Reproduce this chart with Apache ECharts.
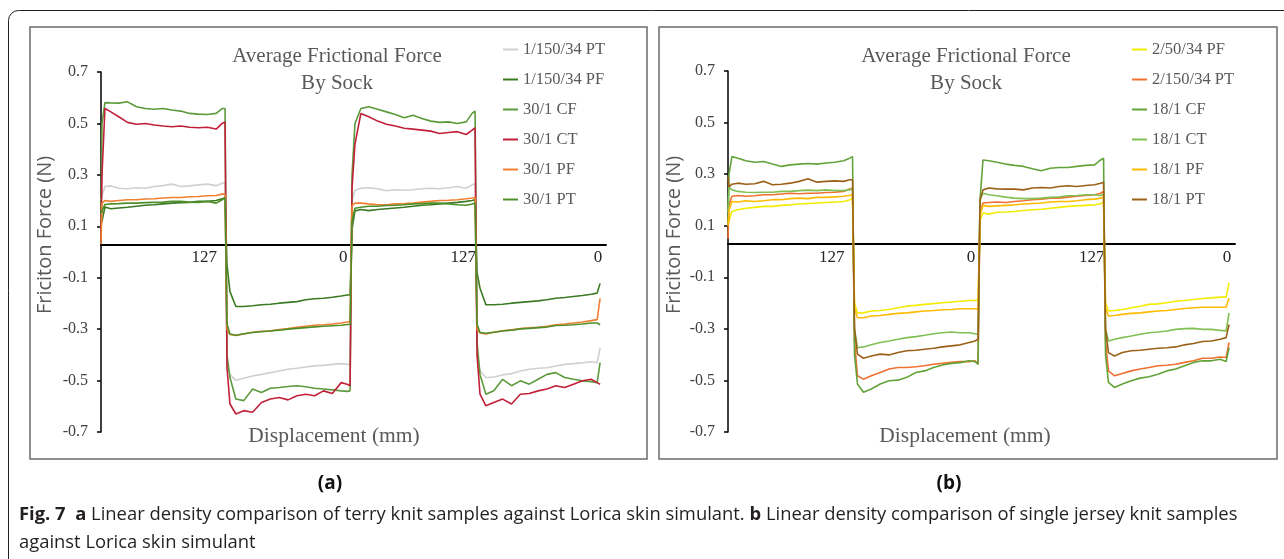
<!DOCTYPE html>
<html>
<head>
<meta charset="utf-8">
<script src="https://cdn.jsdelivr.net/npm/echarts@6/dist/echarts.min.js"></script>
<style>
html,body{margin:0;padding:0;background:#fff;}
#chart{width:1284px;height:559px;}
</style>
</head>
<body>
<div id="chart"></div>
<script>
// Displacement positions (mm, cumulative over 4 strokes of 127 mm)
const positions = [0,
  1,4,10,18,27,36,45,54,63,72,81,90,99,108,117,123,126,
  128,131,137,145,154,163,172,181,190,199,208,217,226,235,244,250,253,
  255,258,264,272,281,290,299,308,317,326,335,344,353,362,371,377,380,
  382,385,391,399,408,417,426,435,444,453,462,471,480,489,498,504,507];

const xTickValues = [105, 246, 368, 505];
const xTickLabels = ['127', '0', '127', '0'];
const yTickValues = [-0.7, -0.5, -0.3, -0.1, 0.1, 0.3, 0.5, 0.7];

// Panel (a)
const namesA = ['1/150/34 PT', '1/150/34 PF', '30/1 CF', '30/1 CT', '30/1 PF', '30/1 PT'];
const colorsA = ['#d0d0d0', '#3a7a23', '#5b9a3a', '#c0203a', '#f08030', '#4f8f2a'];
const a_150_34_PT = [0.2,
  0.22,0.255,0.257,0.248,0.246,0.25,0.248,0.255,0.258,0.264,0.255,0.257,0.261,0.264,0.258,0.267,0.27,
  -0.45,-0.476,-0.499,-0.491,-0.482,-0.476,-0.469,-0.463,-0.456,-0.452,-0.447,-0.443,-0.441,-0.437,-0.434,-0.437,-0.437,
  0.2,0.24,0.248,0.25,0.246,0.238,0.242,0.24,0.242,0.246,0.248,0.246,0.25,0.255,0.248,0.261,0.267,
  -0.4,-0.463,-0.488,-0.486,-0.478,-0.473,-0.463,-0.456,-0.452,-0.45,-0.443,-0.437,-0.434,-0.431,-0.427,-0.431,-0.373];
const a_150_34_PF = [0.11,
  0.12,0.175,0.168,0.171,0.174,0.178,0.182,0.184,0.187,0.19,0.192,0.193,0.197,0.197,0.2,0.207,0.21,
  -0.05,-0.154,-0.212,-0.212,-0.209,-0.205,-0.203,-0.199,-0.196,-0.193,-0.186,-0.182,-0.18,-0.176,-0.171,-0.167,-0.167,
  0.09,0.16,0.165,0.161,0.165,0.168,0.171,0.174,0.178,0.182,0.184,0.187,0.19,0.193,0.197,0.2,0.203,
  -0.08,-0.141,-0.205,-0.205,-0.203,-0.199,-0.196,-0.193,-0.19,-0.186,-0.18,-0.177,-0.173,-0.169,-0.164,-0.16,-0.122];
const a_30_1_CF = [0.12,
  0.5,0.581,0.58,0.579,0.584,0.565,0.558,0.555,0.558,0.552,0.548,0.539,0.536,0.535,0.539,0.558,0.558,
  -0.4,-0.488,-0.572,-0.578,-0.533,-0.546,-0.53,-0.527,-0.523,-0.52,-0.524,-0.53,-0.533,-0.536,-0.54,-0.542,-0.54,
  0.3,0.5,0.558,0.565,0.555,0.545,0.535,0.522,0.532,0.519,0.509,0.504,0.506,0.5,0.506,0.539,0.548,
  -0.35,-0.476,-0.553,-0.54,-0.495,-0.52,-0.501,-0.514,-0.495,-0.476,-0.469,-0.488,-0.495,-0.501,-0.504,-0.508,-0.43];
const a_30_1_CT = [0.05,
  0.3,0.558,0.545,0.526,0.504,0.497,0.5,0.494,0.49,0.487,0.49,0.485,0.483,0.485,0.478,0.5,0.506,
  -0.45,-0.591,-0.63,-0.617,-0.623,-0.585,-0.572,-0.566,-0.575,-0.559,-0.553,-0.559,-0.54,-0.55,-0.508,-0.514,-0.52,
  0.25,0.42,0.539,0.526,0.509,0.497,0.49,0.481,0.478,0.474,0.47,0.461,0.465,0.468,0.457,0.474,0.483,
  -0.4,-0.553,-0.598,-0.585,-0.572,-0.591,-0.553,-0.55,-0.54,-0.533,-0.52,-0.527,-0.514,-0.501,-0.495,-0.508,-0.514];
const a_30_1_PF = [0.03,
  0.19,0.2,0.197,0.2,0.203,0.203,0.206,0.207,0.21,0.212,0.212,0.215,0.216,0.219,0.22,0.225,0.225,
  -0.3,-0.321,-0.325,-0.319,-0.312,-0.308,-0.306,-0.302,-0.298,-0.293,-0.289,-0.285,-0.283,-0.28,-0.276,-0.272,-0.27,
  0.18,0.19,0.19,0.187,0.184,0.184,0.187,0.188,0.19,0.194,0.197,0.2,0.201,0.203,0.207,0.21,0.212,
  -0.3,-0.315,-0.319,-0.312,-0.306,-0.303,-0.298,-0.295,-0.293,-0.289,-0.283,-0.28,-0.276,-0.272,-0.267,-0.263,-0.18];
const a_30_1_PT = [0.15,
  0.15,0.185,0.187,0.188,0.19,0.19,0.192,0.193,0.194,0.197,0.197,0.194,0.193,0.197,0.19,0.203,0.212,
  -0.28,-0.319,-0.324,-0.318,-0.313,-0.31,-0.307,-0.304,-0.3,-0.297,-0.294,-0.291,-0.289,-0.287,-0.285,-0.282,-0.282,
  0.12,0.17,0.174,0.178,0.178,0.181,0.182,0.184,0.187,0.188,0.19,0.19,0.187,0.184,0.182,0.187,0.19,
  -0.28,-0.313,-0.316,-0.312,-0.307,-0.304,-0.299,-0.297,-0.294,-0.292,-0.286,-0.285,-0.283,-0.28,-0.276,-0.276,-0.283];

// Panel (b)
const namesB = ['2/50/34 PF', '2/150/34 PT', '18/1 CF', '18/1 CT', '18/1 PF', '18/1 PT'];
const colorsB = ['#f2ec00', '#f07030', '#62a33a', '#80c055', '#ffbb00', '#9a6018'];
const b_2_50_34_PF = [0.1,
  0.12,0.155,0.162,0.168,0.171,0.175,0.175,0.179,0.181,0.184,0.186,0.188,0.19,0.192,0.194,0.2,0.207,
  -0.2,-0.238,-0.238,-0.231,-0.229,-0.225,-0.218,-0.212,-0.209,-0.205,-0.202,-0.199,-0.196,-0.193,-0.19,-0.19,-0.19,
  0.12,0.149,0.145,0.152,0.153,0.155,0.159,0.162,0.164,0.168,0.171,0.175,0.177,0.179,0.181,0.185,0.192,
  -0.2,-0.231,-0.229,-0.225,-0.218,-0.212,-0.205,-0.203,-0.199,-0.193,-0.19,-0.186,-0.182,-0.18,-0.177,-0.177,-0.122];
const b_2_150_34_PT = [0.05,
  0.18,0.214,0.217,0.214,0.216,0.22,0.22,0.223,0.226,0.224,0.226,0.226,0.229,0.23,0.233,0.242,0.246,
  -0.35,-0.482,-0.495,-0.482,-0.469,-0.456,-0.45,-0.45,-0.447,-0.443,-0.437,-0.434,-0.43,-0.427,-0.427,-0.424,-0.437,
  0.15,0.188,0.19,0.192,0.19,0.194,0.197,0.201,0.203,0.207,0.207,0.211,0.214,0.217,0.22,0.226,0.233,
  -0.35,-0.463,-0.482,-0.473,-0.463,-0.456,-0.45,-0.443,-0.441,-0.437,-0.43,-0.424,-0.414,-0.414,-0.409,-0.411,-0.353];
const b_18_1_CF = [0.1,
  0.3,0.368,0.362,0.352,0.346,0.349,0.339,0.33,0.336,0.339,0.341,0.339,0.343,0.346,0.352,0.362,0.368,
  -0.4,-0.514,-0.546,-0.533,-0.514,-0.501,-0.499,-0.488,-0.469,-0.463,-0.45,-0.44,-0.434,-0.431,-0.424,-0.427,-0.437,
  0.2,0.355,0.352,0.346,0.339,0.334,0.33,0.321,0.313,0.323,0.326,0.326,0.33,0.334,0.336,0.355,0.362,
  -0.4,-0.508,-0.527,-0.514,-0.501,-0.491,-0.486,-0.476,-0.463,-0.456,-0.443,-0.43,-0.424,-0.424,-0.418,-0.427,-0.373];
const b_18_1_CT = [0.15,
  0.25,0.239,0.233,0.23,0.229,0.23,0.23,0.233,0.233,0.236,0.238,0.236,0.239,0.236,0.236,0.239,0.243,
  -0.3,-0.373,-0.37,-0.362,-0.353,-0.347,-0.34,-0.334,-0.33,-0.325,-0.319,-0.315,-0.312,-0.315,-0.315,-0.319,-0.321,
  0.2,0.226,0.22,0.216,0.211,0.207,0.205,0.205,0.207,0.21,0.212,0.216,0.217,0.22,0.22,0.217,0.223,
  -0.3,-0.347,-0.34,-0.334,-0.328,-0.321,-0.315,-0.312,-0.308,-0.302,-0.299,-0.298,-0.302,-0.302,-0.306,-0.308,-0.238];
const b_18_1_PF = [0.1,
  0.16,0.194,0.192,0.197,0.194,0.197,0.201,0.201,0.205,0.207,0.205,0.21,0.21,0.212,0.214,0.217,0.22,
  -0.22,-0.257,-0.257,-0.25,-0.248,-0.244,-0.24,-0.238,-0.234,-0.231,-0.229,-0.226,-0.225,-0.222,-0.222,-0.222,-0.225,
  0.14,0.179,0.175,0.177,0.179,0.181,0.184,0.186,0.188,0.192,0.194,0.194,0.197,0.201,0.203,0.207,0.21,
  -0.22,-0.25,-0.248,-0.244,-0.24,-0.238,-0.234,-0.231,-0.229,-0.225,-0.221,-0.218,-0.216,-0.216,-0.216,-0.216,-0.18];
const b_18_1_PT = [0.29,
  0.25,0.261,0.265,0.261,0.263,0.272,0.259,0.261,0.265,0.272,0.282,0.269,0.272,0.274,0.272,0.278,0.278,
  -0.3,-0.398,-0.414,-0.405,-0.398,-0.401,-0.392,-0.385,-0.383,-0.379,-0.375,-0.37,-0.366,-0.362,-0.353,-0.347,-0.34,
  0.2,0.239,0.246,0.243,0.242,0.242,0.239,0.246,0.248,0.246,0.252,0.255,0.252,0.256,0.259,0.265,0.269,
  -0.3,-0.392,-0.405,-0.392,-0.385,-0.383,-0.379,-0.375,-0.373,-0.37,-0.362,-0.357,-0.349,-0.347,-0.34,-0.334,-0.283];

const valuesA = [a_150_34_PT, a_150_34_PF, a_30_1_CF, a_30_1_CT, a_30_1_PF, a_30_1_PT];
const valuesB = [b_2_50_34_PF, b_2_150_34_PT, b_18_1_CF, b_18_1_CT, b_18_1_PF, b_18_1_PT];

const SERIF = '"Liberation Serif", "Times New Roman", serif';
const SANS = '"Open Sans", "Noto Sans", sans-serif';

function pairs(vals) { return vals.map((v, i) => [positions[i], v]); }

function makeXAxis(gridIndex) {
  return {
    gridIndex, type: 'value', min: 0, max: 513,
    axisLine: { show: true, onZero: true, lineStyle: { color: '#000', width: 2 } },
    axisTick: { show: false }, splitLine: { show: false },
    axisLabel: {
      customValues: xTickValues,
      formatter: (v) => xTickLabels[xTickValues.indexOf(v)],
      margin: -183, fontFamily: SERIF, fontSize: 17, color: '#262626'
    }
  };
}
function makeShiftAxis(gridIndex) {
  // hidden axis whose zero sits at the 0.03 level of the visible axis; the x axis line rests on it
  return { gridIndex, type: 'value', min: -0.73, max: 0.67, show: false, position: 'right',
    axisLine: { onZero: false }, splitLine: { show: false } };
}
function makeYAxis(gridIndex) {
  return {
    gridIndex, type: 'value', min: -0.7, max: 0.7, position: 'left',
    axisLine: { show: true, onZero: false, lineStyle: { color: '#000', width: 1.5 } },
    axisTick: { show: true, customValues: yTickValues, length: 4, lineStyle: { color: '#000', width: 1.5 } },
    splitLine: { show: false },
    axisLabel: {
      customValues: yTickValues,
      formatter: (v) => v.toFixed(1),
      margin: 13, fontFamily: SERIF, fontSize: 16, color: '#404040'
    }
  };
}

const series = [];
namesA.forEach((n, i) => series.push({
  name: n, type: 'line', xAxisIndex: 0, yAxisIndex: 1, data: pairs(valuesA[i]),
  showSymbol: false, symbol: 'none', color: colorsA[i], lineStyle: { width: 1.6, color: colorsA[i] }, z: 2 + i
}));
namesB.forEach((n, i) => series.push({
  name: n, type: 'line', xAxisIndex: 1, yAxisIndex: 3, data: pairs(valuesB[i]),
  showSymbol: false, symbol: 'none', color: colorsB[i], lineStyle: { width: 1.6, color: colorsB[i] }, z: 2 + i
}));

function legend(names, left) {
  return {
    data: names, orient: 'vertical', left, top: 36, itemWidth: 15, itemHeight: 2, itemGap: 13,
    icon: 'rect', textStyle: { fontFamily: SERIF, fontSize: 16.5, color: '#595959' }
  };
}

const chart = echarts.init(document.getElementById('chart'), null, { renderer: 'canvas' });
chart.setOption({
  animation: false,
  backgroundColor: '#fff',
  grid: [
    { left: 101, top: 72, width: 505, height: 360 },
    { left: 728, top: 71, width: 507, height: 361 }
  ],
  xAxis: [makeXAxis(0), makeXAxis(1)],
  yAxis: [makeShiftAxis(0), makeYAxis(0), makeShiftAxis(1), makeYAxis(1)],
  legend: [legend(namesA, 498), legend(namesB, 1127)],
  series,
  graphic: [
    { type: 'rect', silent: true, z: -10, shape: { x: 8.5, y: 10.5, width: 1310, height: 580, r: 10 },
      style: { fill: 'none', stroke: '#222', lineWidth: 1 } },
    { type: 'rect', silent: true, z: -10, shape: { x: 30, y: 27, width: 617, height: 432 },
      style: { fill: 'none', stroke: '#6b6b6b', lineWidth: 1.5 } },
    { type: 'rect', silent: true, z: -10, shape: { x: 659, y: 27, width: 618, height: 432 },
      style: { fill: 'none', stroke: '#6b6b6b', lineWidth: 1.5 } },
    { type: 'text', silent: true, style: { text: 'Average Frictional Force\nBy Sock', x: 337, y: 43, textAlign: 'center',
      textVerticalAlign: 'top', font: '21px ' + SERIF, fill: '#595959', lineHeight: 27 } },
    { type: 'text', silent: true, style: { text: 'Average Frictional Force\nBy Sock', x: 966, y: 43, textAlign: 'center',
      textVerticalAlign: 'top', font: '21px ' + SERIF, fill: '#595959', lineHeight: 27 } },
    { type: 'text', silent: true, x: 45, y: 235, rotation: Math.PI / 2,
      style: { text: 'Friciton Force (N)', textAlign: 'center', textVerticalAlign: 'middle', font: '20px ' + SANS, fill: '#595959' } },
    { type: 'text', silent: true, x: 674, y: 235, rotation: Math.PI / 2,
      style: { text: 'Friciton Force (N)', textAlign: 'center', textVerticalAlign: 'middle', font: '20px ' + SANS, fill: '#595959' } },
    { type: 'text', silent: true, style: { text: 'Displacement (mm)', x: 334, y: 436, textAlign: 'center',
      textVerticalAlign: 'middle', font: '21.5px ' + SERIF, fill: '#595959' } },
    { type: 'text', silent: true, style: { text: 'Displacement (mm)', x: 965, y: 436, textAlign: 'center',
      textVerticalAlign: 'middle', font: '21.5px ' + SERIF, fill: '#595959' } },
    { type: 'text', silent: true, style: { text: '(a)', x: 330, y: 484, textAlign: 'center',
      textVerticalAlign: 'middle', font: 'bold 19px ' + SANS, fill: '#111' } },
    { type: 'text', silent: true, style: { text: '(b)', x: 949, y: 484, textAlign: 'center',
      textVerticalAlign: 'middle', font: 'bold 19px ' + SANS, fill: '#111' } },
    { type: 'text', silent: true, style: {
      text: '{b|Fig. 7}  {b|a} Linear density comparison of terry knit samples against Lorica skin simulant. {b|b} Linear density comparison of single jersey knit samples\nagainst Lorica skin simulant',
      x: 19, y: 501, textAlign: 'left', textVerticalAlign: 'top', font: '18.4px ' + SANS, fill: '#231f20', lineHeight: 28,
      rich: { b: { fontWeight: 'bold', fontFamily: SANS, fontSize: 18.4, fill: '#231f20', lineHeight: 28 } } } }
  ]
});
</script>
</body>
</html>
